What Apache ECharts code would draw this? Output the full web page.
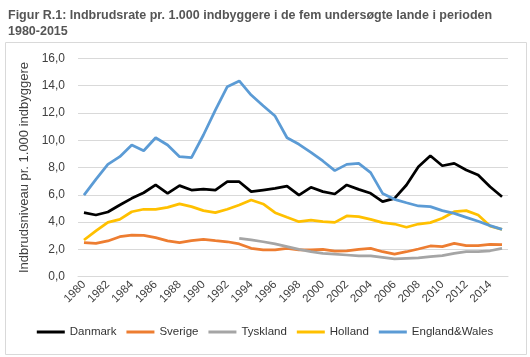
<!DOCTYPE html>
<html><head><meta charset="utf-8">
<script src="https://cdn.jsdelivr.net/npm/echarts@6/dist/echarts.min.js"></script>
<style>html,body{margin:0;padding:0;background:#fff}#c{width:530px;height:357px}</style>
</head><body><div id="c"></div>
<script>
const years = [];
for (let y = 1980; y <= 2015; y++) years.push(String(y));
const danmark = [4.69,4.52,4.74,5.25,5.74,6.15,6.72,6.11,6.67,6.35,6.42,6.35,6.96,6.96,6.23,6.35,6.47,6.64,5.98,6.55,6.23,6.06,6.72,6.40,6.11,5.50,5.74,6.72,8.06,8.86,8.13,8.30,7.82,7.45,6.59,5.86];
const sverige = [2.49,2.44,2.62,2.93,3.05,3.03,2.86,2.62,2.49,2.64,2.74,2.64,2.56,2.40,2.08,1.96,1.96,2.08,1.96,1.96,2.00,1.88,1.90,2.00,2.08,1.83,1.66,1.83,2.03,2.25,2.20,2.44,2.27,2.27,2.37,2.35];
const tyskland = [null,null,null,null,null,null,null,null,null,null,null,null,null,2.81,2.69,2.56,2.40,2.20,2.00,1.83,1.71,1.66,1.59,1.52,1.52,1.42,1.30,1.35,1.38,1.47,1.54,1.71,1.83,1.83,1.90,2.08];
const holland = [2.69,3.35,3.98,4.20,4.76,4.94,4.94,5.08,5.33,5.13,4.84,4.69,4.94,5.25,5.62,5.33,4.69,4.35,4.03,4.15,4.03,3.98,4.45,4.40,4.20,3.96,3.86,3.62,3.86,3.96,4.28,4.76,4.84,4.52,3.71,3.47];
const england = [5.98,7.13,8.23,8.79,9.65,9.23,10.18,9.65,8.79,8.72,10.38,12.21,13.92,14.34,13.31,12.53,11.77,10.18,9.70,9.11,8.48,7.77,8.23,8.30,7.62,6.10,5.67,5.42,5.18,5.13,4.84,4.64,4.35,4.06,3.74,3.47];
const seriesNames = ['Danmark','Sverige','Tyskland','Holland','England&Wales'];
const seriesColors = ['#000000','#ED7D31','#A5A5A5','#FFC000','#5B9BD5'];
const seriesData = [danmark, sverige, tyskland, holland, england];

const chart = echarts.init(document.getElementById('c'));
const font = 'Liberation Sans, Arial, sans-serif';
chart.setOption({
  animation: false,
  textStyle: { fontFamily: font },
  title: {
    text: 'Figur R.1: Indbrudsrate pr. 1.000 indbyggere i de fem undersøgte lande i perioden\n1980-2015',
    left: 3, top: 3,
    textStyle: { fontSize: 12.5, fontWeight: 'bold', color: '#555555', lineHeight: 16, fontFamily: font }
  },
  graphic: [{
    type: 'rect', left: 3, top: 40,
    shape: { width: 521, height: 312 },
    style: { fill: 'none', stroke: '#d9d9d9', lineWidth: 1 }
  }],
  grid: { left: 78, right: 22, top: 58.3, bottom: 80.3 },
  legend: {
    bottom: 14, left: 'center',
    itemWidth: 28, itemHeight: 3, itemGap: 10,
    icon: 'rect',
    textStyle: { fontSize: 11.5, color: '#333', fontFamily: font },
    data: seriesNames
  },
  xAxis: {
    type: 'category', data: years, boundaryGap: true,
    axisLine: { lineStyle: { color: '#d9d9d9' } },
    axisTick: { show: false },
    axisLabel: { interval: 1, rotate: 45, fontSize: 11.5, color: '#404040', margin: 6 }
  },
  yAxis: {
    type: 'value', min: 0, max: 16, interval: 2,
    name: 'Indbrudsniveau pr. 1.000 indbyggere',
    nameLocation: 'middle', nameGap: 35,
    nameTextStyle: { fontSize: 13, color: '#404040' },
    axisLine: { show: false }, axisTick: { show: false },
    splitLine: { lineStyle: { color: '#d9d9d9' } },
    axisLabel: { fontSize: 12, color: '#404040', margin: 13,
      formatter: v => v.toFixed(1).replace('.', ',') }
  },
  series: seriesNames.map((n, i) => ({
    name: n, type: 'line', data: seriesData[i],
    symbol: 'none', connectNulls: false,
    lineStyle: { width: 2.75, color: seriesColors[i] },
    itemStyle: { color: seriesColors[i] }
  }))
});
</script></body></html>
